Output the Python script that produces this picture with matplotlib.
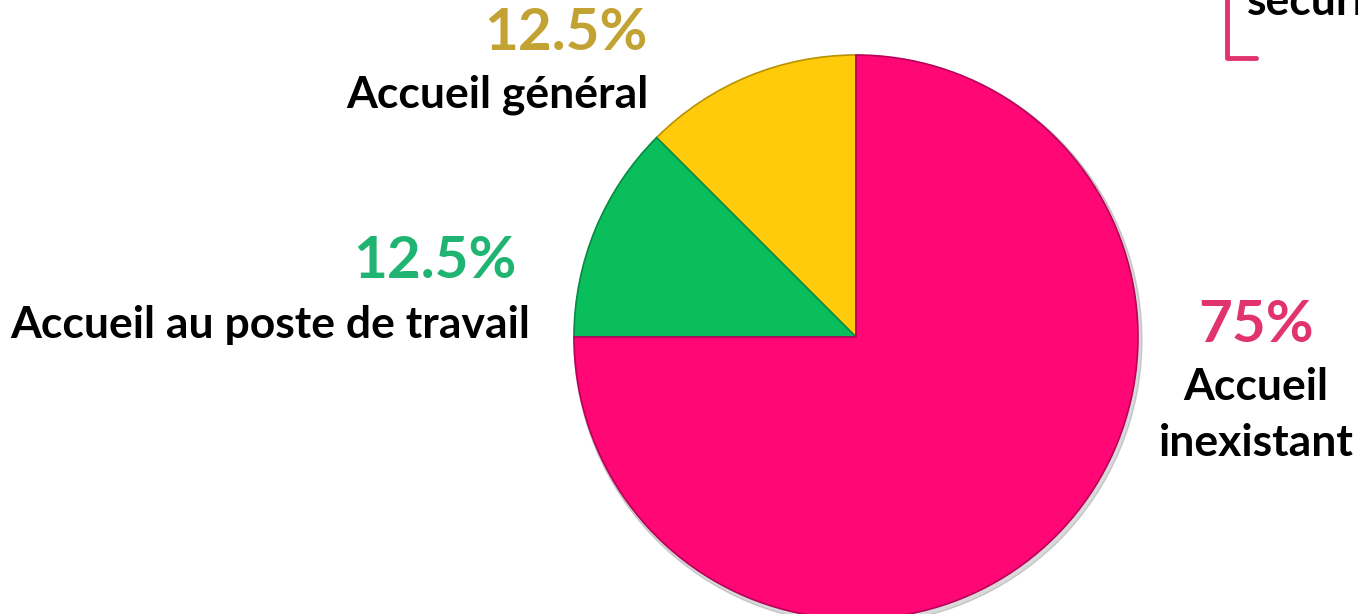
import matplotlib
matplotlib.use("Agg")
import matplotlib.pyplot as plt
from matplotlib.patches import Circle

# données du graphique
categories = ["Accueil général", "Accueil au poste de travail", "Accueil\ninexistant"]
values = [12.5, 12.5, 75]
colors = ["#FFCB0A", "#0ABE5C", "#FF0875"]
edge_colors = ["#B89200", "#078A42", "#B8005A"]
pct_colors = ["#C2A233", "#20B472", "#E23371"]

W, H = 1358, 614
plt.rcParams["font.family"] = ["Lato", "DejaVu Sans"]

fig = plt.figure(figsize=(W / 100, H / 100), dpi=100)
ax = fig.add_axes([0, 0, 1, 1])

cx, cy, r = 856, H - 337, 282

# ombre légère
ax.add_patch(Circle((cx + 2, cy - 3), r + 2, color="#000000", alpha=0.15, zorder=0))

wedges, _ = ax.pie(
    values,
    colors=colors,
    startangle=90,
    counterclock=True,
    center=(cx, cy),
    radius=r,
    wedgeprops={"linewidth": 1.2},
)
for w, ec in zip(wedges, edge_colors):
    w.set_edgecolor(ec)
    w.set_zorder(1)

ax.set_xlim(0, W)
ax.set_ylim(0, H)
ax.set_aspect("auto")
ax.axis("off")

pct = [f"{v:g}%" for v in values]
txt = dict(fontweight="bold")

# Accueil général
ax.text(648, H - 33, pct[0], color=pct_colors[0], fontsize=42, ha="right", va="center", **txt)
ax.text(648, H - 95, categories[0], color="black", fontsize=32, ha="right", va="center", **txt)

# Accueil au poste de travail
ax.text(435, H - 262, pct[1], color=pct_colors[1], fontsize=42, ha="center", va="center", **txt)
ax.text(530, H - 325, categories[1], color="black", fontsize=32, ha="right", va="center", **txt)

# Accueil inexistant
ax.text(1256, H - 325, pct[2], color=pct_colors[2], fontsize=42, ha="center", va="center", **txt)
ax.text(1256, H - 415, categories[2], color="black", fontsize=32, ha="center", va="center",
        linespacing=1.5, **txt)

# fragment en haut à droite
ax.text(1247, H - 15, "sécurité", color="black", fontsize=32, ha="left", va="baseline", **txt)
ax.plot([1227, 1227, 1256], [H + 5, H - 58, H - 58], color="#E2336F", lw=3.5,
        solid_capstyle="round", solid_joinstyle="round")

fig.savefig("out.png", dpi=100)
